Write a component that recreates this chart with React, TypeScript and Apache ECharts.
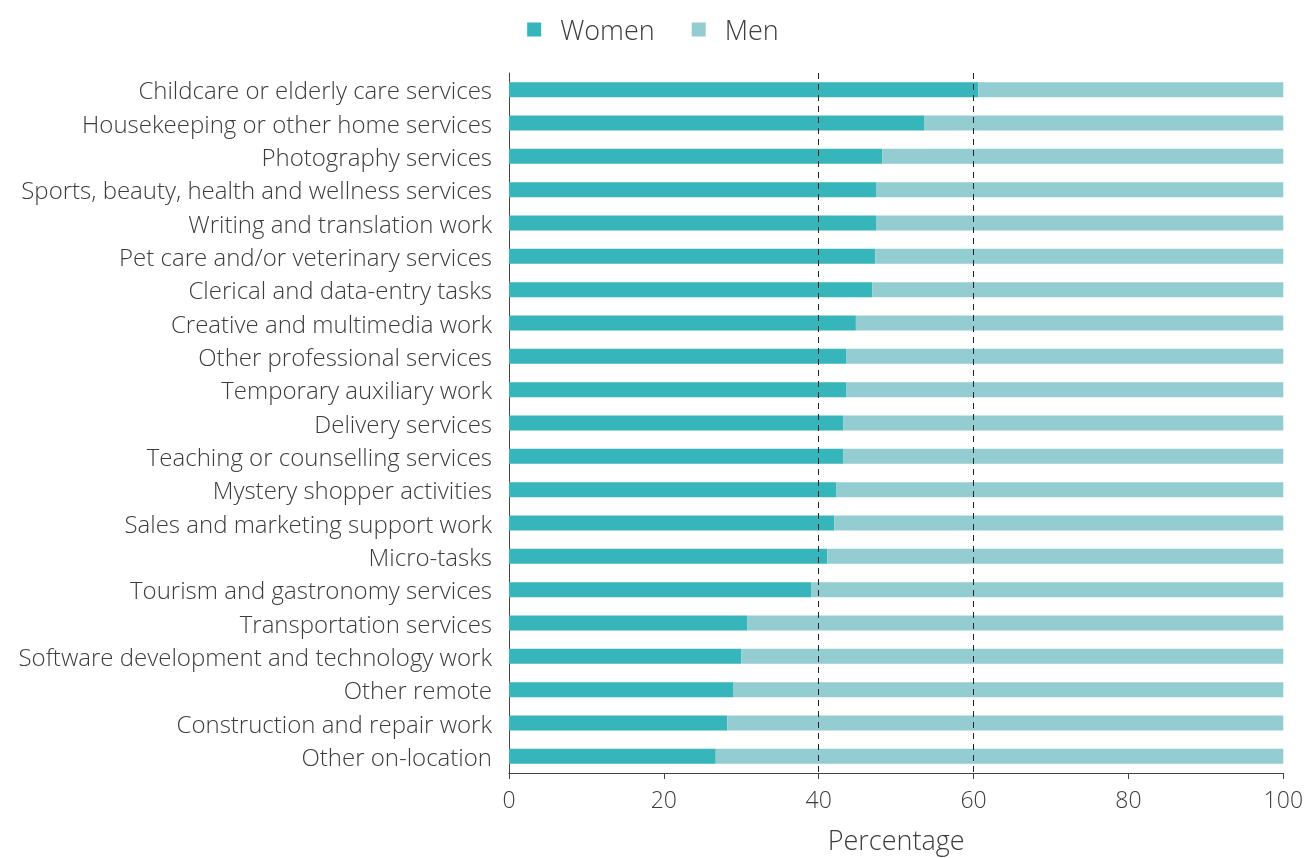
import React, { useEffect, useRef } from "react";
import * as echarts from "echarts";

const categories = [
  "Childcare or elderly care services",
  "Housekeeping or other home services",
  "Photography services",
  "Sports, beauty, health and wellness services",
  "Writing and translation work",
  "Pet care and/or veterinary services",
  "Clerical and data-entry tasks",
  "Creative and multimedia work",
  "Other professional services",
  "Temporary auxiliary work",
  "Delivery services",
  "Teaching or counselling services",
  "Mystery shopper activities",
  "Sales and marketing support work",
  "Micro-tasks",
  "Tourism and gastronomy services",
  "Transportation services",
  "Software development and technology work",
  "Other remote",
  "Construction and repair work",
  "Other on-location",
];

const women = [60.6, 53.6, 48.2, 47.4, 47.4, 47.3, 46.9, 44.8, 43.6, 43.6, 43.2, 43.2, 42.3, 42.0, 41.1, 39.0, 30.8, 30.0, 29.0, 28.2, 26.7];
const men = [39.4, 46.4, 51.8, 52.6, 52.6, 52.7, 53.1, 55.2, 56.4, 56.4, 56.8, 56.8, 57.7, 58.0, 58.9, 61.0, 69.2, 70.0, 71.0, 71.8, 73.3];

const referenceLines = [40, 60];
const xTicks = { min: 0, max: 100, interval: 20 };

const FONT = "'Open Sans', 'Noto Sans', sans-serif";
const TEXT = "#3c3c3c";

export default function App() {
  const ref = useRef<HTMLDivElement>(null);
  useEffect(() => {
    if (!ref.current) return;
    const chart = echarts.init(ref.current, undefined, { renderer: "svg" });
    chart.setOption({
      animation: false,
      textStyle: { fontFamily: FONT, fontWeight: 300, color: TEXT },
      legend: {
        top: 11,
        left: "center",
        icon: "rect",
        itemWidth: 14,
        itemHeight: 14,
        itemGap: 37,
        textStyle: { fontFamily: FONT, fontWeight: 300, fontSize: 27, color: TEXT, padding: [0, 0, 0, 14] },
        data: ["Women", "Men"],
      },
      grid: { left: 509, right: 21, top: 73, height: 704, containLabel: false },
      xAxis: {
        type: "value",
        min: xTicks.min,
        max: xTicks.max,
        interval: xTicks.interval,
        name: "Percentage",
        nameLocation: "middle",
        nameGap: 53,
        nameTextStyle: { fontFamily: FONT, fontWeight: 300, fontSize: 27, color: TEXT },
        axisLine: { show: true, lineStyle: { color: "#444", width: 1 } },
        axisTick: { show: true, length: 6, lineStyle: { color: "#444" } },
        axisLabel: { fontFamily: FONT, fontWeight: 300, fontSize: 23, color: TEXT, margin: 14 },
        splitLine: { show: false },
      },
      yAxis: {
        type: "category",
        data: categories,
        inverse: true,
        axisLine: { show: true, lineStyle: { color: "#444", width: 1 } },
        axisTick: { show: false },
        axisLabel: { fontFamily: FONT, fontWeight: 300, fontSize: 24, color: TEXT, margin: 17 },
      },
      series: [
        {
          name: "refLines",
          type: "line",
          data: [],
          z: 0,
          silent: true,
          markLine: {
            silent: true,
            symbol: ["none", "none"],
            label: { show: false },
            lineStyle: { type: [6, 5], color: "#222", width: 1 },
            data: referenceLines.map((v) => ({ xAxis: v })),
          },
        },
        {
          name: "Women",
          type: "bar",
          stack: "total",
          data: women,
          barWidth: "45%",
          z: 3,
          itemStyle: { color: "#36b5ba" },
        },
        {
          name: "Men",
          type: "bar",
          stack: "total",
          data: men,
          barWidth: "45%",
          z: 3,
          itemStyle: { color: "#93cdd1" },
        },
      ],
    });
    return () => chart.dispose();
  }, []);
  return <div ref={ref} style={{ position: "fixed", left: 0, top: 0, width: 1306, height: 858 }} />;
}
